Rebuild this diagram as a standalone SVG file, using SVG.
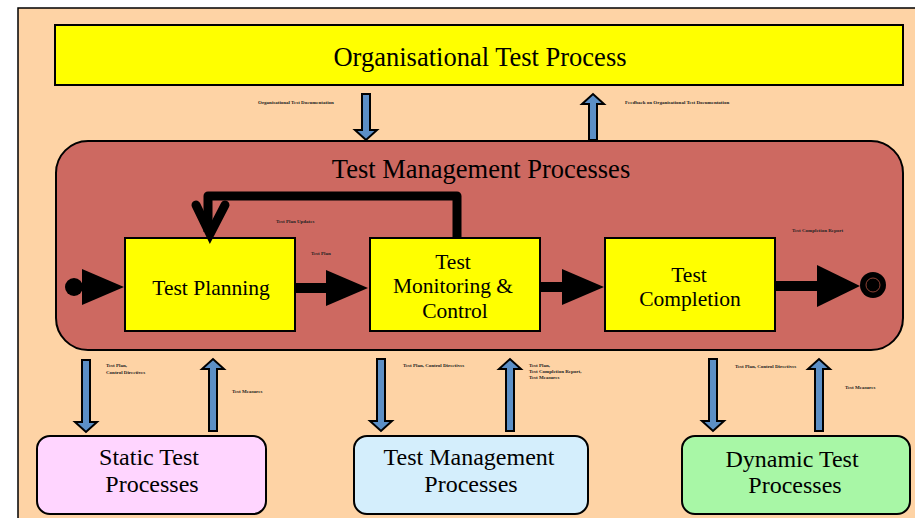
<svg xmlns="http://www.w3.org/2000/svg" width="915" height="518" viewBox="0 0 915 518">
<defs>
<style>
.t{font-family:"Liberation Serif","Times New Roman",serif;fill:#000;text-anchor:middle}
.big{font-size:26.5px}
.box{font-size:21.5px}
.bot{font-size:24px}
.s{font-family:"Liberation Serif","Times New Roman",serif;font-size:5px;font-weight:bold;fill:#222}
.blue{fill:#5C8FC6;stroke:#000;stroke-width:2;stroke-linejoin:miter}
.proc{fill:#FFFF00;stroke:#000;stroke-width:2}
.flow{stroke:#000;stroke-width:10;fill:none}
</style>
<path id="dn" d="M-4,0 H4 V62 H11 L0,72 L-11,62 H-4 Z"/>
<path id="up" d="M-4,72 H4 V10 H11 L0,0 L-11,10 H-4 Z"/>
<path id="dns" d="M-4,0 H4 V36 H11 L0,46 L-11,36 H-4 Z"/>
<path id="ups" d="M-4,46 H4 V10 H11 L0,0 L-11,10 H-4 Z"/>
</defs>
<rect x="0" y="0" width="915" height="518" fill="#fff"/>
<rect x="18" y="8" width="910" height="520" fill="#FED3A5" stroke="#000" stroke-width="1.5"/>
<g id="org">
<rect x="55" y="25" width="848" height="60" fill="#FFFF00" stroke="#000" stroke-width="2"/>
<text class="t big" x="480" y="66">Organisational Test Process</text>
</g>
<g id="tmp">
<rect x="56" y="141" width="847" height="209" rx="32" fill="#CD6961" stroke="#000" stroke-width="2"/>
<text class="t big" x="481" y="178">Test Management Processes</text>
</g>
<g id="planning">
<rect class="proc" x="125" y="238" width="170" height="93"/>
<text class="t box" x="211" y="295">Test Planning</text>
</g>
<g id="monitoring">
<rect class="proc" x="370" y="238" width="170" height="93"/>
<text class="t box" x="453" y="269">Test</text>
<text class="t box" x="453" y="293">Monitoring &amp;</text>
<text class="t box" x="455" y="318">Control</text>
</g>
<g id="completion">
<rect class="proc" x="605" y="238" width="170" height="93"/>
<text class="t box" x="689" y="282">Test</text>
<text class="t box" x="690" y="306">Completion</text>
</g>
<g id="static">
<rect x="37" y="436" width="229" height="78" rx="13" fill="#FFD5FF" stroke="#000" stroke-width="2"/>
<text class="t bot" x="149" y="465">Static Test</text>
<text class="t bot" x="152" y="492">Processes</text>
</g>
<g id="tmproc">
<rect x="354" y="436" width="234" height="78" rx="13" fill="#D4EEFC" stroke="#000" stroke-width="2"/>
<text class="t bot" x="469" y="465">Test Management</text>
<text class="t bot" x="471" y="492">Processes</text>
</g>
<g id="dynamic">
<rect x="682" y="436" width="228" height="78" rx="13" fill="#A8F7A6" stroke="#000" stroke-width="2"/>
<text class="t bot" x="792" y="467">Dynamic Test</text>
<text class="t bot" x="795" y="493">Processes</text>
</g>
<g id="start">
<circle cx="74" cy="287" r="9" fill="#000"/>
</g>
<g id="end">
<circle cx="873" cy="285" r="13" fill="#000"/>
<circle cx="873" cy="285" r="7" fill="none" stroke="#B05040" stroke-width="0.8"/>
</g>
<g id="connectors">
<polygon points="82,269 124,287 82,305" fill="#000"/>
<line class="flow" x1="295" y1="288" x2="330" y2="288"/>
<polygon points="326,270 368,288 326,306" fill="#000"/>
<line class="flow" x1="540" y1="287" x2="566" y2="287"/>
<polygon points="562,269 604,287 562,305" fill="#000"/>
<line class="flow" x1="775" y1="286" x2="822" y2="286"/>
<polygon points="817,265 860,286 817,307" fill="#000"/>
<path d="M457,238 V196 H208 V232" stroke="#000" stroke-width="9" fill="none" stroke-linejoin="round"/>
<path d="M196,205 L210,234 L225,205" stroke="#000" stroke-width="9" fill="none" stroke-linecap="round" stroke-linejoin="miter"/>
<use href="#dns" class="blue" transform="translate(366,94)"/>
<use href="#ups" class="blue" transform="translate(593,94)"/>
<use href="#dn" class="blue" transform="translate(86,360)"/>
<use href="#up" class="blue" transform="translate(213,359)"/>
<use href="#dn" class="blue" transform="translate(381,359)"/>
<use href="#up" class="blue" transform="translate(510,359)"/>
<use href="#dn" class="blue" transform="translate(713,359)"/>
<use href="#up" class="blue" transform="translate(819,359)"/>
</g>
<g id="labels">
<text class="s" x="258" y="104">Organisational Test Documentation</text>
<text class="s" x="625" y="104">Feedback on Organisational Test Documentation</text>
<text class="s" x="276" y="223">Test Plan Updates</text>
<text class="s" x="311" y="255">Test Plan</text>
<text class="s" x="792" y="232">Test Completion Report</text>
<text class="s" x="106" y="367">Test Plan,</text>
<text class="s" x="106" y="374">Control Directives</text>
<text class="s" x="232" y="393">Test Measures</text>
<text class="s" x="403" y="367">Test Plan, Control Directives</text>
<text class="s" x="529" y="367">Test Plan,</text>
<text class="s" x="529" y="373">Test Completion Report,</text>
<text class="s" x="529" y="379">Test Measures</text>
<text class="s" x="735" y="368">Test Plan, Control Directives</text>
<text class="s" x="845" y="389">Test Measures</text>
</g>
</svg>
